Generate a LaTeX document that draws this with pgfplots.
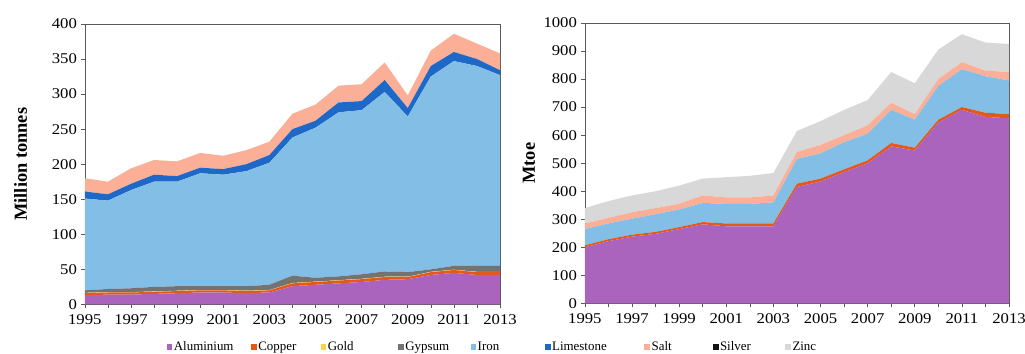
\documentclass[border=0pt]{standalone}
\usepackage{pgfplots}
\pgfplotsset{compat=1.18}
\usepackage{pgfplotstable}
\usepackage{fontspec}
\setmainfont{Liberation Serif}
\definecolor{alu}{RGB}{170,100,190}
\definecolor{cop}{RGB}{228,88,24}
\definecolor{gol}{RGB}{250,210,70}
\definecolor{gyp}{RGB}{115,115,115}
\definecolor{iro}{RGB}{130,190,230}
\definecolor{lim}{RGB}{30,105,200}
\definecolor{sal}{RGB}{250,175,150}
\definecolor{sil}{RGB}{20,20,20}
\definecolor{zin}{RGB}{216,216,216}

\pgfplotstableread{
year alu cop gol gyp iro lim sal
1995 13 3 0.5 3.5 131 10 19
1996 14 3 0.5 4.5 126 9 18
1997 14 3 0.5 5.5 140 9 22
1998 15 3 0.5 6.5 150 10 21
1999 16 3 0.5 6.5 149 8 21
2000 17 3 0.5 5.5 161 8 21
2001 17 3 0.5 5.5 159 8 19
2002 16 3 0.5 6.5 164 10 20
2003 17 3 0.5 7.5 174 11 19
2004 26 4 0.5 10.5 197 12 22
2005 28 4 0.5 5.5 214 10 23
2006 30 4 0.5 5.5 234 14 24
2007 32 4 0.5 6.5 234 13 24
2008 35 4 0.5 7.5 256 17 25
2009 36 3 0.5 6.5 222 12 18
2010 42 4 0.5 3.5 275 15 22
2011 45 4 0.5 5.5 292 13 26
2012 42 4 0.5 8.5 285 10 22
2013 42 4 0.5 8.5 272 7 24
}\tonnes

\pgfplotstableread{
year alu cop iro sal zin
1995 200 7 58 20 55
1996 222 7 56 20 60
1997 238 7 57 23 60
1998 248 7 63 22 60
1999 265 7 63 20 65
2000 282 8 68 27 60
2001 275 10 70 23 72
2002 275 10 70 23 77
2003 275 10 75 25 80
2004 415 12 88 25 75
2005 435 10 90 30 85
2006 468 10 97 25 90
2007 500 10 95 30 90
2008 560 12 118 25 110
2009 545 10 100 20 110
2010 645 10 120 25 105
2011 690 10 135 25 100
2012 665 15 130 20 100
2013 660 15 120 30 100
}\mtoe

\pgfplotsset{
  common/.style={
    scale only axis,
    height=281bp,
    xmin=1995, xmax=2013,
    xtick={1995,1997,...,2013},
    minor xtick={1996,1998,...,2012},
    ymin=0,
    tick align=outside,
    tick pos=left,
    axis line style={gray!70!black, line width=0.6pt},
    major tick length=4bp,
    minor tick length=4bp,
    every tick/.style={gray!70!black, line width=0.6pt},
    /pgf/number format/1000 sep={},
    /pgf/number format/assume math mode=true,
    tick label style={font=\fontsize{15}{17}\selectfont, xscale=1.12},
    xticklabel style={yshift=-3bp},
    ylabel style={font=\fontsize{18.5}{20}\selectfont\bfseries, anchor=center},
    stack plots=y,
    every axis plot/.append style={draw=none},
    legend image code/.code={\fill[##1] (0bp,-2.8bp) rectangle (5.6bp,2.8bp);},
  }
}

\begin{document}
\begin{tikzpicture}
\useasboundingbox (-85bp,-49bp) rectangle (942bp,305bp);
\begin{axis}[common,
  width=416bp,
  ymax=400, ytick={0,50,...,400},
  ylabel={Million tonnes},
  ylabel style={at={(axis description cs:-0.155,0.5)}},
  legend columns=9,
  legend style={at={(axis description cs:0.197,-0.152)}, anchor=west, draw=none, fill=none,
    inner sep=0pt, font=\fontsize{13}{14}\selectfont,
    nodes={inner sep=1.5bp},
    /tikz/every even column/.append style={column sep=0pt},
    /tikz/every odd column/.append style={column sep=0pt}},
]
\addplot[fill=alu] table[x=year,y=alu]{\tonnes} \closedcycle;
\addlegendentry{\makebox[76bp][l]{Aluminium}}
\addplot[fill=cop] table[x=year,y=cop]{\tonnes} \closedcycle;
\addlegendentry{\makebox[61bp][l]{Copper}}
\addplot[fill=gol] table[x=year,y=gol]{\tonnes} \closedcycle;
\addlegendentry{\makebox[69bp][l]{Gold}}
\addplot[fill=gyp] table[x=year,y=gyp]{\tonnes} \closedcycle;
\addlegendentry{\makebox[64bp][l]{Gypsum}}
\addplot[fill=iro] table[x=year,y=iro]{\tonnes} \closedcycle;
\addlegendentry{\makebox[66bp][l]{Iron}}
\addplot[fill=lim] table[x=year,y=lim]{\tonnes} \closedcycle;
\addlegendentry{\makebox[91bp][l]{Limestone}}
\addplot[fill=sal] table[x=year,y=sal]{\tonnes} \closedcycle;
\addlegendentry{\makebox[60bp][l]{Salt}}
\addlegendimage{fill=sil}
\addlegendentry{\makebox[64bp][l]{Silver}}
\addlegendimage{fill=zin}
\addlegendentry{Zinc}
\end{axis}
\begin{axis}[common,
  at={(501bp,1bp)},
  width=425bp,
  ymax=1000, ytick={0,100,...,1000},
  ylabel={Mtoe},
  ylabel style={at={(axis description cs:-0.132,0.5)}},
]
\addplot[fill=alu] table[x=year,y=alu]{\mtoe} \closedcycle;
\addplot[fill=cop] table[x=year,y=cop]{\mtoe} \closedcycle;
\addplot[fill=iro] table[x=year,y=iro]{\mtoe} \closedcycle;
\addplot[fill=sal] table[x=year,y=sal]{\mtoe} \closedcycle;
\addplot[fill=zin] table[x=year,y=zin]{\mtoe} \closedcycle;
\end{axis}
\end{tikzpicture}
\end{document}
